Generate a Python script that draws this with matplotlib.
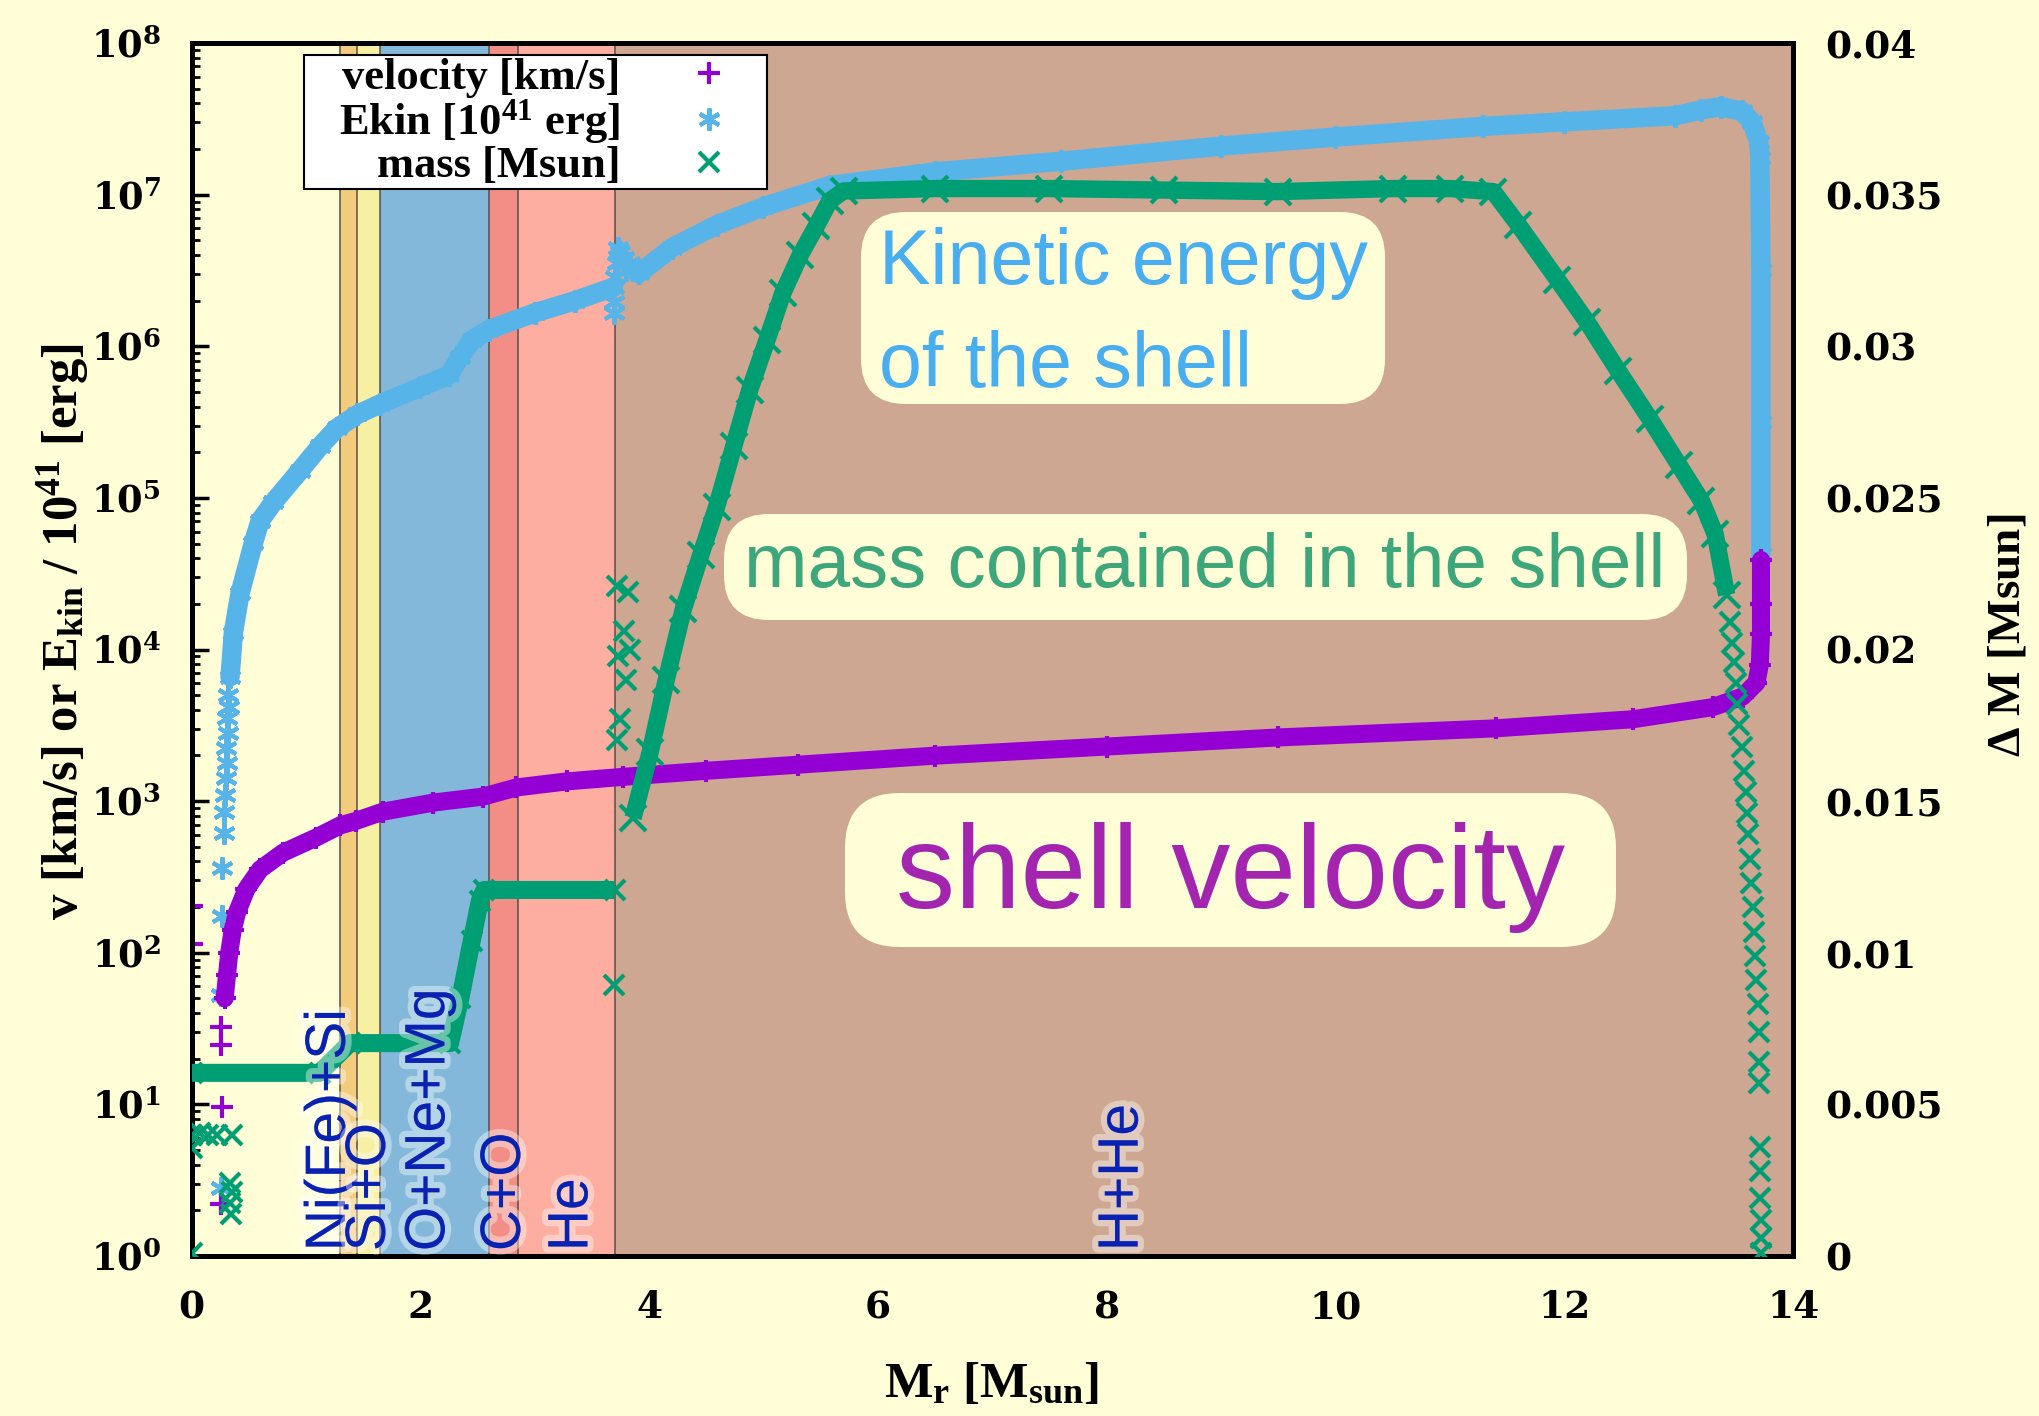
import numpy as np
import matplotlib
matplotlib.use('Agg')
import matplotlib.pyplot as plt
import matplotlib.patheffects as pe
from matplotlib import transforms
from matplotlib.patches import FancyBboxPatch, Rectangle

# FONTS
plt.rcParams['mathtext.fontset'] = 'custom'
plt.rcParams['mathtext.rm'] = 'Liberation Serif:bold'
plt.rcParams['mathtext.it'] = 'Liberation Serif:bold:italic'
plt.rcParams['mathtext.bf'] = 'Liberation Serif:bold'
plt.rcParams['mathtext.sf'] = 'DejaVu Serif:bold'

# DATA
# composition zones along M_r [Msun]
zone_edges = [0.0, 1.30, 1.45, 1.65, 2.60, 2.85, 3.70, 14.0]
zone_colors = ['#FFFED7', '#F2CB7D', '#F7EFA2', '#83B8DA', '#F28E86', '#FEAEA0', '#CEA793']
zone_names = ['Ni(Fe)+Si', 'Si+O', 'O+Ne+Mg', 'C+O', 'He', 'H+He']
zone_label_x = [1.21, 1.56, 2.08, 2.74, 3.33, 8.14]

# shell velocity [km/s], log10 values
vel_x = [0.29, 0.31, 0.33, 0.36, 0.40, 0.48, 0.60, 0.80, 1.09, 1.30, 1.44, 1.67, 2.11,
         2.55, 2.84, 3.28, 3.77, 4.5, 5.3, 6.5, 8.0, 9.5, 11.4, 12.6, 13.3, 13.56,
         13.68, 13.71, 13.72, 13.72, 13.72]
vel_log = [1.70, 1.85, 2.00, 2.15, 2.27, 2.42, 2.55, 2.66, 2.76, 2.84, 2.87, 2.93, 2.99,
           3.03, 3.09, 3.13, 3.16, 3.20, 3.24, 3.30, 3.36, 3.42, 3.48, 3.54, 3.62, 3.69,
           3.78, 3.90, 4.10, 4.30, 4.59]
vel_sx = [0.0, 0.0, 0.26, 0.26, 0.27, 0.26]
vel_slog = [2.31, 2.06, 1.51, 1.39, 0.98, 0.34]

# kinetic energy [1e41 erg], log10 values
ek_in_x = [0.337, 0.366, 0.424, 0.54, 0.60, 0.715, 0.948, 1.123, 1.27, 1.45, 1.65, 2.0,
           2.25, 2.35, 2.45, 2.6, 3.0, 3.35, 3.69]
ek_in_log = [3.82, 4.11, 4.37, 4.70, 4.85, 4.97, 5.18, 5.34, 5.46, 5.55, 5.62, 5.73,
             5.81, 5.93, 6.04, 6.11, 6.22, 6.30, 6.39]
ek_out_x = [3.91, 4.2, 4.59, 5.0, 5.58, 6.5, 7.6, 9.0, 10.0, 11.29, 12.0, 12.97, 13.2,
            13.37, 13.55, 13.64, 13.70, 13.71, 13.72, 13.72, 13.72]
ek_out_log = [6.48, 6.65, 6.80, 6.92, 7.06, 7.15, 7.22, 7.32, 7.38, 7.45, 7.48, 7.52, 7.56,
              7.58, 7.55, 7.48, 7.35, 7.24, 6.5, 5.5, 4.63]
ek_sx = [0.26, 0.26, 0.27, 0.27, 0.28, 0.28, 0.29, 0.30, 0.31, 0.30, 0.32, 0.31, 0.33, 0.32,
         3.69, 3.69, 3.70, 3.72, 3.75, 3.78, 3.80, 3.73, 3.83, 3.86]
ek_slog = [0.45, 1.72, 2.24, 2.56, 2.79, 2.93, 3.04, 3.15, 3.25, 3.35, 3.45, 3.55, 3.62, 3.70,
           6.22, 6.29, 6.46, 6.55, 6.62, 6.58, 6.50, 6.65, 6.55, 6.50]

# mass contained in the shell [Msun]
mass_in_x = [0.0, 1.12, 1.385, 2.26, 2.35, 2.45, 2.52, 2.56, 3.70]
mass_in_y = [0.00604, 0.00604, 0.00702, 0.00702, 0.0085, 0.0104, 0.0117, 0.01207, 0.01207]
mass_out_x = [3.86, 4.01, 4.15, 4.30, 4.45, 4.59, 4.74, 4.88, 5.03, 5.17, 5.32, 5.46, 5.58,
              5.70, 6.5, 7.5, 8.5, 9.5, 10.5, 11.0, 11.38, 11.6, 11.94, 12.2, 12.47, 12.75,
              13.0, 13.2, 13.32, 13.42]
mass_out_y = [0.01445, 0.01662, 0.0190, 0.02134, 0.0231, 0.0247, 0.0267, 0.02856, 0.0302,
              0.03176, 0.0330, 0.03395, 0.0348, 0.03512, 0.0352, 0.0352, 0.03515, 0.0351,
              0.0352, 0.0352, 0.0351, 0.0340, 0.0322, 0.0308, 0.0292, 0.0276, 0.0261,
              0.0249, 0.0238, 0.0218]
mass_tail_x = [13.45, 13.47, 13.48, 13.50, 13.51, 13.53, 13.55, 13.57, 13.59, 13.60, 13.61,
               13.62, 13.63, 13.65, 13.66, 13.67, 13.68, 13.69, 13.70, 13.70, 13.70, 13.71,
               13.71, 13.71, 13.72, 13.72, 13.72]
mass_tail_y = [0.0209, 0.0202, 0.0196, 0.0189, 0.0182, 0.0175, 0.0168, 0.0160, 0.0153,
               0.0146, 0.0139, 0.0131, 0.0123, 0.0115, 0.0107, 0.0099, 0.0091, 0.0083,
               0.0074, 0.0064, 0.0057, 0.0036, 0.0028, 0.0019, 0.0012, 0.0006, 0.0001]
mass_sx = [0.0, 0.0, 0.0, 0.07, 0.145, 0.22, 0.35, 0.337, 0.35, 0.34, 0.345,
           3.69, 3.72, 3.82, 3.78, 3.83, 3.73, 3.80, 3.75, 3.72]
mass_sy = [0.0001, 0.00356, 0.0040, 0.00405, 0.0040, 0.0040, 0.0040, 0.0024, 0.0021,
           0.00175, 0.0014, 0.00894, 0.0221, 0.0219, 0.0206, 0.0200, 0.0198, 0.0190,
           0.0177, 0.0170]

x_ticks = [0, 2, 4, 6, 8, 10, 12, 14]
left_ticks = [1e0, 1e1, 1e2, 1e3, 1e4, 1e5, 1e6, 1e7, 1e8]
left_labels = [r'$\mathsf{10^{%d}}$' % i for i in range(9)]
right_ticks = [0, 0.005, 0.01, 0.015, 0.02, 0.025, 0.03, 0.035, 0.04]
right_labels = ['0', '0.005', '0.01', '0.015', '0.02', '0.025', '0.03', '0.035', '0.04']

PURPLE = '#9400D3'
BLUE = '#56B4E9'
GREEN = '#009E73'
BG = '#FFFED7'

# FIGURE
W, H = 2039, 1416
fig = plt.figure(figsize=(W / 100, H / 100), dpi=100, facecolor=BG)
ax = fig.add_axes([191.5 / W, 1 - 1256 / H, 1601.5 / W, 1213 / H])
ax.set_facecolor(BG)
ax.set_yscale('log')
ax.set_xlim(0, 14)
ax.set_ylim(1, 1e8)
px = transforms.IdentityTransform()

# zones
for i in range(len(zone_colors)):
    ax.axvspan(zone_edges[i], zone_edges[i + 1], color=zone_colors[i], lw=0, zorder=0)
for e in zone_edges[1:-1]:
    ax.axvline(e, color='#5A4E48', lw=1.1, zorder=1)

# velocity and kinetic energy
ax.plot(vel_x, 10 ** np.array(vel_log), color=PURPLE, lw=13, marker='+', ms=16, mew=3,
        solid_capstyle='round', solid_joinstyle='round', zorder=4)
h_vel, = ax.plot(vel_sx, 10 ** np.array(vel_slog), ls='none', color=PURPLE, marker='+',
                 ms=16, mew=3, zorder=4, label='velocity [km/s]')
ek_marker = (6, 2, 0)
for xs, ls_ in [(ek_in_x, ek_in_log), (ek_out_x, ek_out_log)]:
    ax.plot(xs, 10 ** np.array(ls_), color=BLUE, lw=14, marker=ek_marker, ms=16, mew=3,
            solid_capstyle='round', solid_joinstyle='round', zorder=3)
h_ek, = ax.plot(ek_sx, 10 ** np.array(ek_slog), ls='none', color=BLUE, marker=ek_marker,
                ms=16, mew=3, zorder=3, label=r'Ekin [10$^{41}$ erg]')

ax.set_xticks(x_ticks)
ax.set_xticklabels([str(t) for t in x_ticks], fontfamily='DejaVu Serif', fontweight='bold',
                   fontsize=27)
ax.set_yticks(left_ticks)
ax.set_yticklabels(left_labels, fontsize=26.5)
ax.tick_params(axis='y', which='major', direction='in', length=12, width=2.5, pad=22,
               right=False)
ax.tick_params(axis='y', which='minor', direction='in', length=6, width=2, right=False)
ax.tick_params(axis='x', length=0, pad=24)

# mass on right axis
ax2 = ax.twinx()
ax2.set_ylim(0, 0.04)
ax2.set_xlim(0, 14)
ax2.plot(mass_in_x, mass_in_y, color=GREEN, lw=13, marker='x', ms=14, mew=3,
         solid_capstyle='butt', zorder=5)
ax2.plot(mass_out_x, mass_out_y, color=GREEN, lw=12.5, marker='x', ms=19, mew=3,
         solid_capstyle='butt', solid_joinstyle='round', zorder=5)
ax2.plot(mass_tail_x, mass_tail_y, ls='none', color=GREEN, marker='x', ms=14, mew=3, zorder=5)
h_mass, = ax2.plot(mass_sx, mass_sy, ls='none', color=GREEN, marker='x', ms=14, mew=3,
                   zorder=5, label='mass [Msun]')
ax2.set_yticks(right_ticks)
ax2.set_yticklabels(right_labels, fontfamily='DejaVu Serif', fontweight='bold', fontsize=27)
ax2.tick_params(axis='y', length=0, pad=23)

for a in (ax, ax2):
    for s in a.spines.values():
        s.set_linewidth(3.6)
        s.set_color('black')

# zone labels
blend = transforms.blended_transform_factory(ax2.transData, ax2.transAxes)
for name, lx in zip(zone_names, zone_label_x):
    ax2.text(lx, 0.004, name, transform=blend, rotation=90, ha='center', va='bottom',
             color='#0A22B2', fontsize=41, family='Liberation Sans', zorder=8,
             path_effects=[pe.withStroke(linewidth=9, foreground=(1, 1, 1, 0.4))])

# legend: white frame drawn separately, entries right-aligned against the markers
ax2.add_patch(Rectangle((304, H - 189), 463, 134, transform=px, fc='white', ec='black',
                        lw=1.5, zorder=19, clip_on=False))
leg = ax2.legend(handles=[h_vel, h_ek, h_mass], loc='center right',
                 bbox_to_anchor=(767, H - 122), bbox_transform=px, borderaxespad=0,
                 markerfirst=False, frameon=False,
                 prop={'family': 'Liberation Serif', 'weight': 'bold', 'size': 32},
                 handlelength=2.6, handletextpad=0.7, labelspacing=0.0, borderpad=0,
                 numpoints=1)
leg.set_zorder(20)

# annotation boxes (pixel coordinates)
boxes = [
    ((861, 212, 1385, 404), 45),
    ((724, 514, 1687, 620), 45),
    ((845, 793, 1616, 947), 55),
]
for (x0, y0, x1, y1), r in boxes:
    fig.add_artist(FancyBboxPatch((x0, H - y1), x1 - x0, y1 - y0,
                                  boxstyle='round,pad=0,rounding_size=%d' % r,
                                  fc='#FFFED6', ec='none', transform=px, zorder=10))
fig.text(879 / W, 1 - 315 / H, 'Kinetic energy\nof the shell', ha='left', va='center',
         color='#48AEEF', fontsize=55.5, family='Liberation Sans', linespacing=1.52, zorder=11)
fig.text(1205 / W, 1 - 568 / H, 'mass contained in the shell', ha='center', va='center',
         color='#3DA77B', fontsize=55, family='Liberation Sans', zorder=11)
fig.text(1231 / W, 1 - 877 / H, 'shell velocity', ha='center', va='center',
         color='#A324AE', fontsize=85, family='Liberation Sans', zorder=11)

# axis labels
fig.text(992 / W, 1 - 1385 / H, r'M$_{\mathrm{r}}$ [M$_{\mathrm{sun}}$]', ha='center',
         va='center', fontsize=37, family='Liberation Serif', fontweight='bold')
fig.text(63 / W, 1 - 632 / H, r'v [km/s] or E$_{\mathrm{kin}}$ / 10$^{\mathrm{41}}$ [erg]',
         rotation=90, ha='center', va='center', fontsize=36.5, family='Liberation Serif',
         fontweight='bold')
fig.text(2009 / W, 1 - 635 / H, r'$\Delta$ M [Msun]', rotation=90, ha='center', va='center',
         fontsize=34, family='Liberation Serif', fontweight='bold')

fig.savefig('out.png', dpi=100, facecolor=BG)
